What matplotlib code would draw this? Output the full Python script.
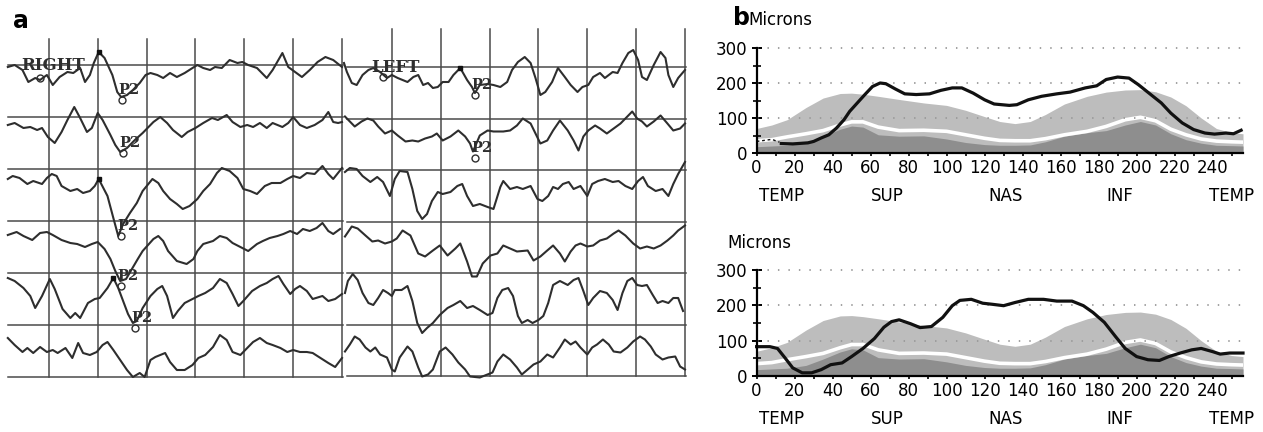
import matplotlib
matplotlib.use('Agg')
import matplotlib.pyplot as plt
import matplotlib.transforms as mtransforms

# ---------------- panel a : pattern VEP traces (t in ms, amplitude in uV-ish units) ----------------
# right eye, rows 1..6
re1_t = [8, 15, 23, 29, 36, 41, 48, 54, 61, 69, 75, 82, 87, 92, 96, 101, 107, 115, 120, 124, 130, 136, 143, 149, 154, 161, 167, 174, 181, 189, 197, 202, 208, 215, 220, 227, 235, 243, 248, 254, 263, 273, 279, 289, 295, 302, 309, 317, 325, 333, 341, 350]
re1_v = [-2, 0, -5, -17, -13, -15, -10, -20, -12, -7, -8, -3, -17, -10, 2, 13, 7, -10, -27, -32, -30, -25, -18, -10, -8, -10, -13, -8, -12, -8, -3, 0, -3, -5, -2, -3, 5, 2, 3, 0, -3, -13, -5, 12, -2, -7, -12, -5, 3, 8, 5, -2]
re2_t = [8, 15, 24, 31, 38, 43, 49, 56, 63, 69, 76, 82, 89, 94, 100, 105, 113, 118, 123, 130, 138, 146, 152, 157, 164, 171, 177, 186, 192, 200, 208, 217, 223, 232, 238, 246, 253, 259, 266, 273, 279, 289, 295, 300, 307, 314, 322, 330, 336, 341, 346, 350]
re2_v = [-8, -6, -11, -10, -13, -11, -20, -26, -15, -3, 10, -1, -15, -11, 4, -3, -18, -28, -35, -31, -23, -16, -10, -5, 0, -6, -13, -20, -15, -11, -6, -1, -3, 2, -5, -10, -8, -10, -6, -11, -6, -10, -6, 0, -8, -11, -8, -3, 5, -5, -6, -5]
re3_t = [8, 13, 20, 28, 34, 43, 48, 53, 58, 63, 72, 79, 85, 92, 97, 101, 110, 116, 121, 126, 133, 140, 146, 156, 162, 167, 174, 181, 187, 194, 202, 208, 215, 222, 227, 235, 243, 249, 256, 263, 271, 278, 287, 294, 300, 307, 314, 322, 330, 336, 341, 350]
re3_v = [-10, -7, -9, -15, -12, -15, -9, -5, -7, -17, -22, -20, -24, -22, -17, -10, -27, -49, -67, -55, -44, -34, -22, -10, -14, -22, -30, -35, -40, -37, -30, -22, -15, -4, 1, -2, -9, -20, -22, -25, -17, -14, -14, -10, -7, -9, -4, -5, 3, -5, -10, 1]
re4_t = [8, 17, 24, 33, 41, 48, 54, 63, 72, 79, 87, 94, 100, 107, 113, 118, 123, 129, 135, 141, 146, 157, 162, 167, 172, 181, 191, 198, 202, 208, 218, 225, 232, 238, 248, 254, 263, 269, 276, 284, 290, 297, 304, 310, 317, 324, 330, 336, 341, 348]
re4_v = [-14, -11, -15, -19, -12, -11, -14, -19, -22, -23, -26, -23, -21, -28, -38, -50, -60, -58, -48, -38, -30, -18, -15, -20, -30, -40, -43, -38, -30, -23, -20, -15, -17, -22, -27, -30, -23, -20, -17, -15, -13, -10, -13, -8, -10, -7, -2, -10, -13, -8]
re5_t = [8, 15, 24, 31, 36, 43, 51, 56, 64, 72, 77, 82, 90, 97, 102, 110, 116, 121, 126, 131, 136, 140, 146, 154, 161, 166, 171, 177, 182, 189, 197, 203, 210, 218, 225, 232, 238, 244, 249, 258, 266, 273, 279, 285, 290, 297, 302, 307, 314, 320, 330, 336, 343, 350]
re5_v = [-5, -8, -15, -23, -35, -23, -6, -16, -36, -45, -40, -45, -30, -26, -25, -15, -5, -15, -28, -41, -50, -48, -35, -23, -16, -13, -23, -45, -38, -30, -26, -23, -20, -15, -6, -10, -21, -33, -28, -18, -13, -10, -6, -3, -11, -21, -16, -13, -18, -26, -23, -28, -26, -21]
re6_t = [8, 15, 23, 28, 34, 41, 48, 54, 59, 67, 74, 80, 85, 92, 99, 105, 110, 116, 123, 130, 136, 143, 148, 154, 159, 164, 169, 174, 181, 189, 197, 203, 210, 218, 225, 232, 238, 246, 253, 259, 266, 273, 279, 287, 294, 300, 307, 314, 320, 328, 336, 343, 350]
re6_v = [-13, -20, -27, -23, -28, -22, -27, -25, -28, -23, -33, -18, -28, -30, -27, -20, -17, -25, -35, -45, -52, -48, -52, -35, -32, -30, -28, -37, -45, -45, -40, -33, -30, -22, -10, -15, -27, -30, -23, -17, -13, -18, -20, -23, -27, -25, -27, -27, -28, -33, -38, -42, -33]

# left eye, rows 1..6
le1_t = [1, 4, 9, 14, 20, 26, 31, 38, 45, 50, 56, 66, 72, 77, 82, 87, 92, 97, 102, 108, 113, 120, 127, 132, 135, 140, 148, 154, 161, 168, 173, 179, 186, 192, 197, 202, 207, 214, 220, 227, 233, 240, 245, 251, 256, 263, 268, 276, 281, 286, 292, 297, 302, 306, 311, 318, 325, 330, 333, 338, 343, 350]
le1_v = [4, -5, -16, -18, -8, -3, -1, -5, -11, -8, -11, -15, -10, -8, -18, -16, -21, -20, -15, -15, -8, -1, -13, -20, -26, -18, -17, -18, -20, -15, -3, 5, 10, 4, -11, -28, -25, -15, -1, -10, -18, -25, -20, -18, -10, -6, -11, -5, -6, 4, 14, 17, 7, -10, -13, 2, 15, 9, -8, -20, -11, -3]
le2_t = [2, 7, 12, 19, 25, 31, 36, 43, 50, 56, 64, 71, 77, 84, 91, 96, 102, 110, 118, 125, 130, 133, 140, 148, 154, 164, 171, 178, 184, 192, 197, 202, 209, 215, 222, 230, 236, 241, 246, 251, 258, 263, 270, 277, 284, 291, 296, 301, 306, 311, 318, 325, 332, 338, 345, 350]
le2_v = [2, -3, -8, -3, 0, -2, -8, -15, -12, -17, -23, -22, -23, -20, -18, -15, -22, -18, -12, -18, -25, -33, -17, -12, -13, -13, -12, -7, 0, -5, -15, -25, -22, -12, -2, -12, -22, -32, -18, -12, -7, -10, -15, -10, -5, 2, 7, 0, -3, -8, -3, 3, -5, -12, -10, -5]
le3_t = [2, 7, 14, 20, 28, 35, 41, 48, 53, 58, 66, 71, 76, 81, 86, 91, 97, 102, 110, 117, 122, 127, 133, 140, 148, 154, 161, 164, 171, 178, 184, 192, 199, 204, 210, 215, 220, 225, 231, 236, 243, 250, 255, 261, 268, 276, 282, 289, 296, 302, 307, 312, 320, 327, 333, 338, 343, 350]
le3_v = [-2, 2, 1, -6, -12, -7, -12, -26, -9, -1, -2, -19, -41, -49, -44, -31, -22, -24, -22, -16, -14, -26, -36, -34, -37, -39, -17, -11, -19, -17, -19, -16, -29, -31, -26, -17, -19, -14, -12, -19, -16, -26, -14, -11, -9, -12, -11, -16, -19, -11, -7, -16, -21, -19, -26, -14, -4, 8]
le4_t = [2, 9, 15, 23, 30, 36, 43, 50, 55, 61, 69, 77, 84, 92, 99, 107, 115, 120, 127, 132, 137, 143, 151, 158, 164, 171, 178, 189, 195, 202, 209, 215, 222, 227, 233, 238, 243, 250, 256, 263, 270, 277, 282, 289, 297, 304, 311, 318, 325, 332, 338, 343, 350]
le4_v = [-15, -5, -7, -14, -20, -19, -22, -20, -17, -9, -14, -32, -35, -29, -24, -34, -27, -22, -40, -55, -55, -42, -34, -32, -24, -27, -30, -29, -39, -35, -29, -24, -32, -40, -30, -24, -22, -25, -24, -19, -17, -12, -9, -14, -22, -27, -25, -27, -24, -19, -14, -9, -4]
le5_t = [2, 5, 10, 15, 20, 26, 31, 36, 41, 46, 50, 53, 60, 66, 71, 76, 81, 86, 92, 99, 107, 113, 120, 127, 133, 140, 148, 153, 158, 163, 169, 174, 179, 183, 189, 194, 200, 205, 210, 215, 222, 230, 236, 241, 246, 251, 256, 263, 270, 276, 281, 286, 291, 296, 301, 306, 311, 317, 322, 327, 333, 338, 343, 348]
le5_v = [-20, -8, -1, -7, -20, -30, -32, -25, -17, -20, -23, -17, -17, -13, -28, -50, -60, -55, -50, -42, -35, -32, -28, -35, -33, -37, -42, -40, -25, -17, -15, -23, -43, -50, -47, -50, -47, -43, -30, -12, -8, -12, -7, -5, -18, -32, -25, -18, -20, -27, -37, -20, -8, -5, -12, -13, -12, -22, -30, -28, -30, -25, -25, -38]
le6_t = [2, 7, 12, 17, 23, 28, 33, 38, 45, 50, 53, 58, 66, 71, 77, 81, 87, 92, 99, 105, 112, 118, 125, 130, 140, 153, 158, 164, 171, 178, 183, 189, 195, 202, 209, 215, 222, 227, 233, 238, 243, 250, 255, 260, 266, 272, 277, 284, 291, 297, 304, 309, 315, 320, 327, 333, 340, 345, 350]
le6_v = [-27, -20, -12, -15, -23, -27, -23, -30, -33, -45, -47, -33, -22, -27, -43, -52, -50, -45, -27, -23, -30, -38, -45, -52, -53, -48, -37, -30, -35, -43, -50, -45, -40, -37, -30, -33, -23, -15, -20, -17, -23, -30, -23, -20, -15, -20, -27, -28, -23, -17, -12, -15, -22, -30, -35, -33, -32, -42, -45]

# P2 marks: (row, latency ms, amplitude)
re_p2_row = [0, 1, 2, 3, 4]
re_p2_t = [125, 126, 124, 124, 138]
re_p2_v = [-35, -36, -67, -65, -55]
le_p2_row = [0, 1]
le_p2_t = [135, 135]
le_p2_v = [-28, -39]
# small peak dots
re_dot_row = [0, 2, 4]
re_dot_t = [101, 101, 116]
re_dot_v = [13, -10, -5]
le_dot_row = [0]
le_dot_t = [120]
le_dot_v = [-1]

# ---------------- panel b : RNFL thickness profiles (microns) ----------------
norm_x = [0, 8, 16, 26, 35, 44, 50, 56, 64, 75, 88, 100, 110, 120, 128, 136, 144, 152, 162, 174, 184, 194, 202, 210, 218, 226, 234, 242, 250, 256]
norm_upper = [70, 80, 95, 130, 157, 170, 171, 168, 162, 153, 143, 136, 122, 104, 90, 84, 90, 110, 140, 162, 174, 180, 181, 175, 160, 135, 100, 70, 58, 55]
norm_white = [35, 38, 46, 55, 64, 80, 89, 89, 74, 64, 65, 62, 52, 42, 36, 35, 35, 41, 52, 62, 76, 95, 102, 92, 68, 52, 40, 34, 32, 31]
norm_dark = [18, 20, 22, 30, 48, 68, 77, 74, 52, 48, 49, 40, 30, 24, 22, 22, 23, 32, 48, 58, 64, 80, 90, 80, 55, 38, 28, 22, 21, 20]

top_lead_x = [0, 4, 8, 12]
top_lead_y = [33, 36, 39, 31]
top_x = [13, 19, 27, 30, 34, 38, 42, 46, 49, 53, 57, 61, 65, 68, 73, 78, 84, 91, 97, 103, 108, 114, 120, 125, 133, 137, 143, 150, 158, 165, 173, 179, 184, 190, 196, 201, 207, 213, 218, 224, 230, 236, 241, 247, 251, 255]
top_y = [27, 26, 29, 33, 43, 52, 71, 95, 119, 143, 167, 190, 200, 198, 183, 169, 167, 169, 179, 186, 186, 171, 152, 140, 136, 138, 152, 162, 169, 174, 186, 192, 210, 217, 214, 195, 169, 143, 114, 86, 67, 57, 54, 57, 55, 65]
bot_x = [0, 7, 11, 15, 19, 24, 29, 34, 39, 45, 50, 56, 62, 67, 71, 75, 81, 86, 92, 98, 103, 107, 113, 119, 124, 130, 136, 143, 151, 158, 166, 172, 177, 183, 189, 194, 200, 206, 212, 217, 223, 229, 234, 240, 244, 249, 253, 256]
bot_y = [83, 83, 78, 51, 23, 9, 9, 18, 32, 37, 55, 78, 106, 138, 154, 159, 148, 137, 140, 166, 199, 214, 217, 206, 203, 199, 208, 217, 217, 212, 212, 199, 180, 152, 111, 78, 55, 46, 44, 55, 65, 74, 78, 69, 62, 65, 65, 65]

regions = ['TEMP', 'SUP', 'NAS', 'INF', 'TEMP']
region_pos = [13, 69, 131, 191, 250]

W, H = 1263, 432
fig = plt.figure(figsize=(W / 100, H / 100), dpi=100)


def px_axes(x0, y0, x1, y1):
    return fig.add_axes([x0 / W, 1 - y1 / H, (x1 - x0) / W, (y1 - y0) / H])


trace_col = '#2e2e2e'
grid_col = '#4a4a4a'
serif = 'DejaVu Serif'


def vep_panel(ax, traces, gap, t_start, top, p2, dots, eye_label, eye_t, eye_circle):
    ax.set_xlim(0, 350)
    ax.axis('off')
    for i in range(7):
        ax.plot([t_start, 351], [-i * gap, -i * gap], color=grid_col, lw=1.1, clip_on=False)
    for tv in range(50, 351, 50):
        ax.plot([tv, tv], [-6 * gap, top], color=grid_col, lw=1.1, clip_on=False)
    for i, (t, v) in enumerate(traces):
        ax.plot(t, [a - i * gap for a in v], color=trace_col, lw=1.5, clip_on=False)
    for r, t, v in zip(*p2):
        ax.plot(t, v - r * gap, 'o', ms=5, mfc='none', mec=trace_col, mew=1.0)
        ax.text(t + 7, v - r * gap + 10, 'P2', family=serif, fontsize=10.5,
                fontweight='bold', color=trace_col, ha='center', va='center')
    for r, t, v in zip(*dots):
        ax.plot(t, v - r * gap, 's', ms=3, color='#111111')
    ax.text(eye_t, 0, eye_label, family=serif, fontsize=12, fontweight='bold',
            color=trace_col, ha='left', va='center')
    ax.plot(eye_circle[0], eye_circle[1], 'o', ms=5, mfc='none', mec=trace_col, mew=1.0)


ax_r = px_axes(0, 29, 342, 380)
ax_r.set_ylim(65 - 380, 65 - 29)
vep_panel(ax_r,
          [(re1_t, re1_v), (re2_t, re2_v), (re3_t, re3_v), (re4_t, re4_v), (re5_t, re5_v), (re6_t, re6_v)],
          52, 8, 26, (re_p2_row, re_p2_t, re_p2_v), (re_dot_row, re_dot_t, re_dot_v),
          'RIGHT', 22, (41, -13))

ax_l = px_axes(343, 29, 685, 380)
ax_l.set_ylim(67 - 380, 67 - 29)
vep_panel(ax_l,
          [(le1_t, le1_v), (le2_t, le2_v), (le3_t, le3_v), (le4_t, le4_v), (le5_t, le5_v), (le6_t, le6_v)],
          51.5, 4, 38, (le_p2_row, le_p2_t, le_p2_v), (le_dot_row, le_dot_t, le_dot_v),
          'LEFT', 29, (41, -10))


def rnfl_panel(ax, lead, bx, by):
    ax.set_xlim(0, 256)
    ax.set_ylim(0, 300)
    ax.fill_between(norm_x, 0, norm_upper, color='#bdbdbd', lw=0, zorder=1)
    ax.fill_between(norm_x, 0, norm_dark, color='#8e8e8e', lw=0, zorder=2)
    ax.plot(norm_x, norm_white, color='white', lw=2.6, zorder=3)
    for g in (100, 200, 300):
        ax.plot([0, 256], [g, g], color='#9a9a9a', lw=1.3, ls=(0, (0.8, 5)), zorder=4, clip_on=False)
    if lead is not None:
        ax.plot(lead[0], lead[1], color='#111111', lw=1.0, ls=(0, (2, 2)), zorder=5)
    ax.plot(bx, by, color='#111111', lw=2.3, zorder=6, clip_on=False)
    for s in ('top', 'right'):
        ax.spines[s].set_visible(False)
    ax.spines['left'].set_linewidth(1.6)
    ax.spines['bottom'].set_linewidth(1.6)
    ax.spines['left'].set_zorder(7)
    ax.spines['bottom'].set_zorder(7)
    ax.set_yticks([0, 100, 200, 300])
    ax.set_yticks([50, 150, 250], minor=True)
    ax.set_xticks(range(0, 241, 20))
    ax.set_xticks(range(0, 256, 10), minor=True)
    ax.tick_params(axis='y', which='major', direction='inout', length=7, width=1.4, pad=3, labelsize=12)
    ax.tick_params(axis='y', which='minor', direction='inout', length=6, width=1.2)
    ax.tick_params(axis='x', which='both', direction='inout', length=4, width=1.2, pad=2, labelsize=12)
    trans = mtransforms.blended_transform_factory(ax.transData, ax.transAxes)
    for name, pos in zip(regions, region_pos):
        ax.text(pos, -0.41, name, transform=trans, ha='center', va='center', fontsize=12)


ax_t = px_axes(756.6, 48, 1243, 153)
rnfl_panel(ax_t, (top_lead_x, top_lead_y), top_x, top_y)
ax_b = px_axes(756.6, 270, 1243, 376)
rnfl_panel(ax_b, None, bot_x, bot_y)

fig.text(13 / W, 1 - 21 / H, 'a', fontsize=17, fontweight='bold', ha='left', va='center')
fig.text(733 / W, 1 - 18 / H, 'b', fontsize=17, fontweight='bold', ha='left', va='center')
fig.text(748 / W, 1 - 20 / H, 'Microns', fontsize=12, ha='left', va='center')
fig.text(727 / W, 1 - 243 / H, 'Microns', fontsize=12, ha='left', va='center')

fig.savefig('out.png', dpi=100)
